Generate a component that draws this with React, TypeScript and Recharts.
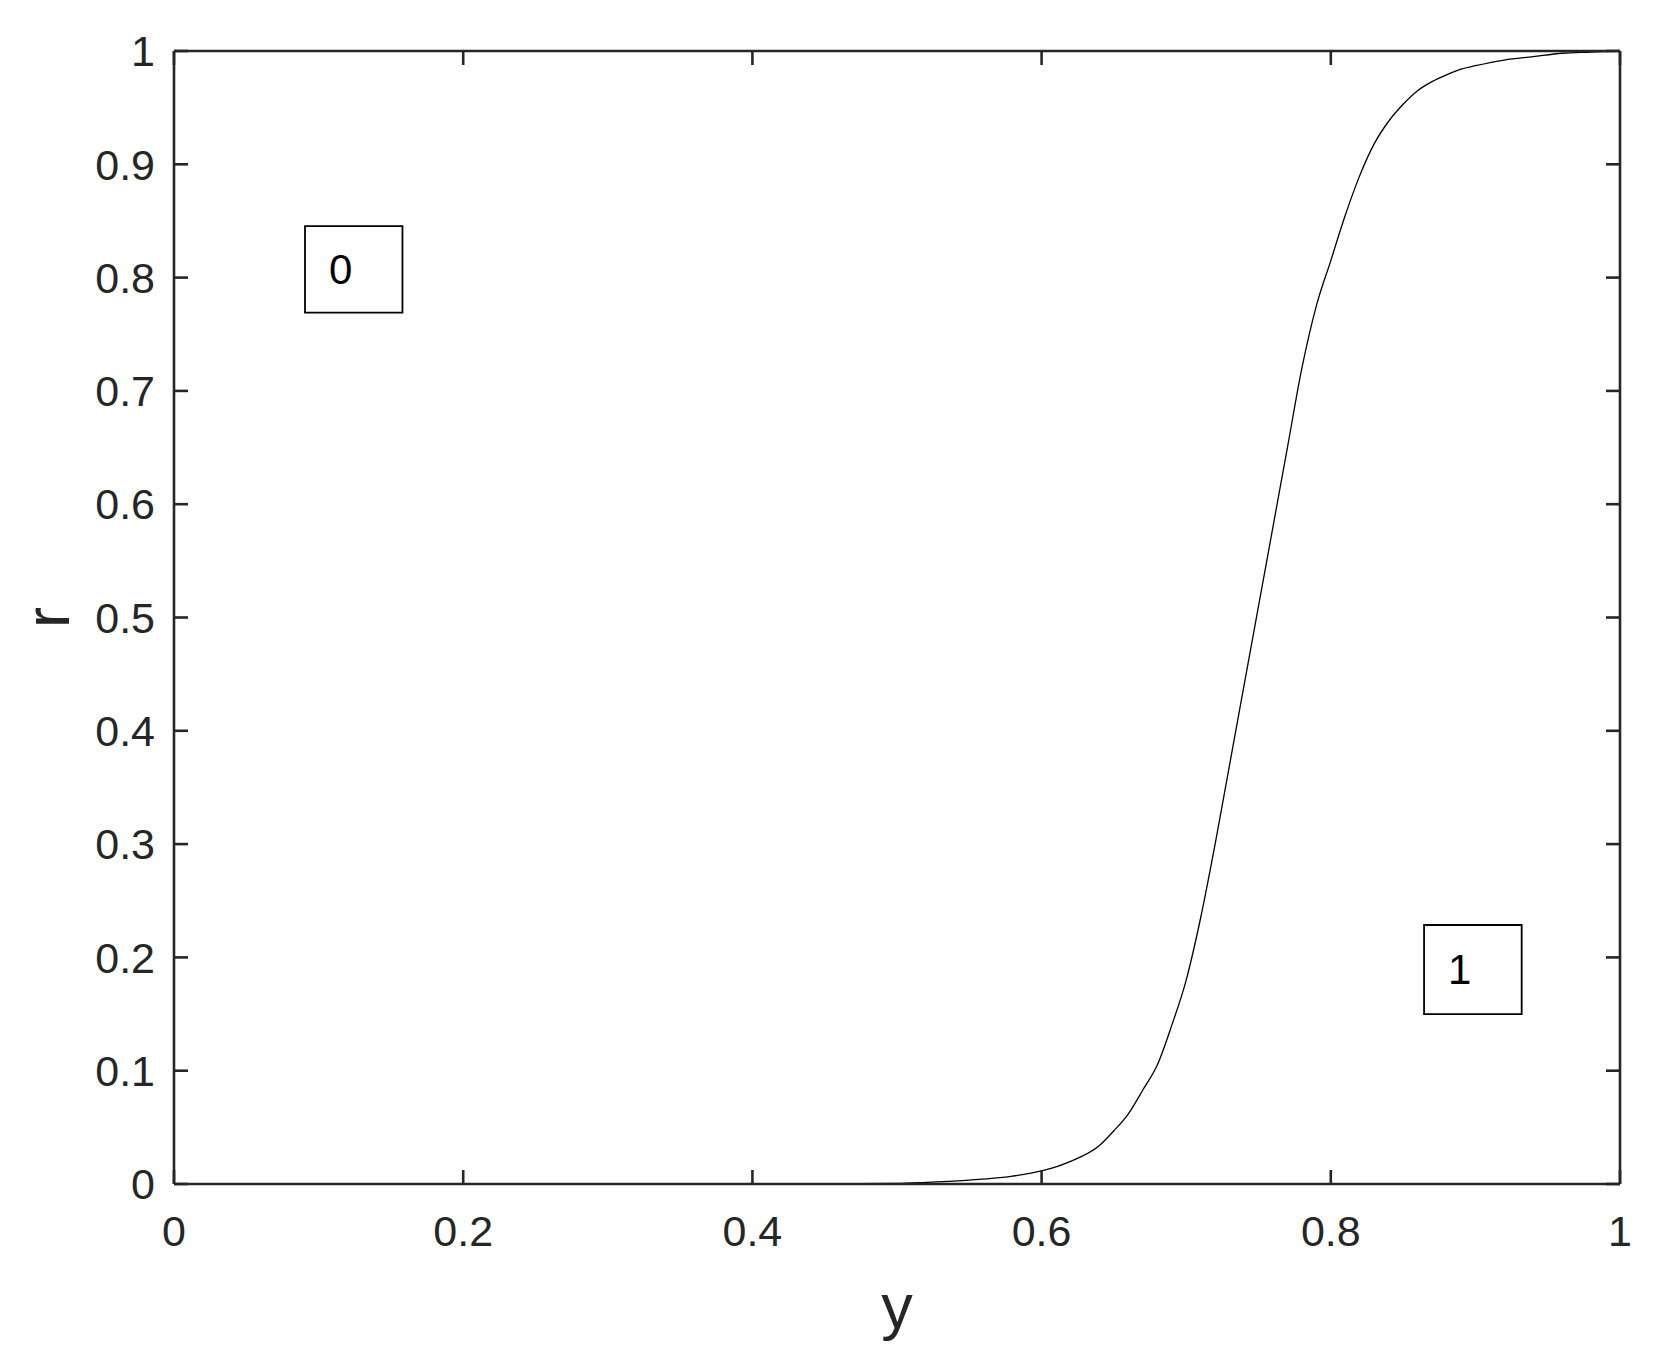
import {
  LineChart, Line, XAxis, YAxis, ReferenceArea,
} from 'recharts'

// Curve (y on the x axis, r on the y axis)
const yValues = [
  0, 0.1, 0.2, 0.3, 0.4, 0.45, 0.5, 0.52, 0.55, 0.58, 0.6, 0.62, 0.64, 0.65, 0.66,
  0.67, 0.68, 0.69, 0.7, 0.71, 0.72, 0.73, 0.74, 0.75, 0.76, 0.77, 0.78, 0.79, 0.8,
  0.81, 0.82, 0.83, 0.84, 0.85, 0.86, 0.87, 0.88, 0.89, 0.9, 0.92, 0.94, 0.96, 0.98, 1,
]
const rValues = [
  0, 0, 0, 0, 0, 0, 0.0005, 0.0015, 0.0035, 0.007, 0.0115, 0.02, 0.034, 0.047, 0.062,
  0.083, 0.105, 0.14, 0.18, 0.235, 0.3, 0.37, 0.44, 0.51, 0.58, 0.65, 0.72, 0.775, 0.815,
  0.855, 0.89, 0.918, 0.938, 0.953, 0.965, 0.973, 0.979, 0.984, 0.987, 0.992, 0.995, 0.998, 0.999, 1,
]

const xTicks = [0, 0.2, 0.4, 0.6, 0.8, 1]
const yTicks = [0, 0.1, 0.2, 0.3, 0.4, 0.5, 0.6, 0.7, 0.8, 0.9, 1]

// Boxed region labels, in data units
const boxLabels = ['0', '1']
const boxX1 = [0.0906, 0.8645]
const boxX2 = [0.158, 0.932]
const boxY1 = [0.769, 0.15]
const boxY2 = [0.8455, 0.2286]

const data = yValues.map((y, i) => ({ y, r: rValues[i] }))

const FONT = '"Liberation Sans", Arial, Helvetica, sans-serif'
const INK = '#262626'

const tickStyle = { fill: INK, fontSize: 43, fontFamily: FONT }
const frameLine = { stroke: INK, strokeWidth: 2.6 }
const noLabel = () => <g />

// inward tick marks on all four sides (MATLAB "box on" look)
const frameX = (id: string, orientation: 'top' | 'bottom') => (
  <XAxis key={id} xAxisId={id} orientation={orientation} type="number" dataKey="y"
    domain={[0, 1]} ticks={xTicks} interval={0} height={1} mirror tick={noLabel}
    stroke={INK} strokeWidth={2.6}
    tickSize={14} tickLine={frameLine} axisLine={frameLine} />
)
const frameY = (id: string, orientation: 'left' | 'right') => (
  <YAxis key={id} yAxisId={id} orientation={orientation} type="number" dataKey="r"
    domain={[0, 1]} ticks={yTicks} interval={0} width={1} mirror tick={noLabel}
    stroke={INK} strokeWidth={2.6}
    tickSize={14} tickLine={frameLine} axisLine={frameLine} />
)

export default function App() {
  return (
    <div style={{ width: 1640, height: 1350, background: '#fff' }}>
      <LineChart width={1640} height={1350} data={data}
        margin={{ top: 43, right: 28, left: 0, bottom: 0 }}>
        {frameX('bt', 'bottom')}
        {frameX('tp', 'top')}
        {frameY('lt', 'left')}
        {frameY('rt', 'right')}
        <XAxis xAxisId={0} type="number" dataKey="y" domain={[0, 1]} ticks={xTicks}
          interval={0} height={174} tickSize={0} tickMargin={31}
          tick={tickStyle} tickLine={false} axisLine={false}
          label={(p: any) => {
            const vb = p.viewBox
            return (
              <text x={vb.x + vb.width / 2} y={vb.y + 144} textAnchor="middle"
                fontSize={63} fontFamily={FONT} fill={INK}>y</text>
            )
          }}
        />
        <YAxis yAxisId={0} type="number" domain={[0, 1]} ticks={yTicks} interval={0}
          width={166} tickSize={0} tickMargin={19} tick={tickStyle}
          tickLine={false} axisLine={false}
          label={(p: any) => {
            const vb = p.viewBox
            const cx = vb.x + 39
            const cy = vb.y + vb.height / 2
            return (
              <text x={cx} y={cy} textAnchor="middle" dominantBaseline="central"
                transform={`rotate(-90, ${cx}, ${cy})`}
                fontSize={63} fontFamily={FONT} fill={INK}>r</text>
            )
          }}
        />
        {boxLabels.map((t, i) => (
          <ReferenceArea key={t} xAxisId={0} yAxisId={0}
            x1={boxX1[i]} x2={boxX2[i]} y1={boxY1[i]} y2={boxY2[i]}
            fill="#fff" fillOpacity={1} stroke="#000" strokeWidth={1.8}
            label={{ value: t, position: 'insideLeft', offset: 24, fontSize: 42, fontFamily: FONT, fill: '#000' }}
          />
        ))}
        <Line xAxisId={0} yAxisId={0} type="monotone" dataKey="r" stroke="#000"
          strokeWidth={1.3} dot={false} activeDot={false} isAnimationActive={false} />
      </LineChart>
    </div>
  )
}
